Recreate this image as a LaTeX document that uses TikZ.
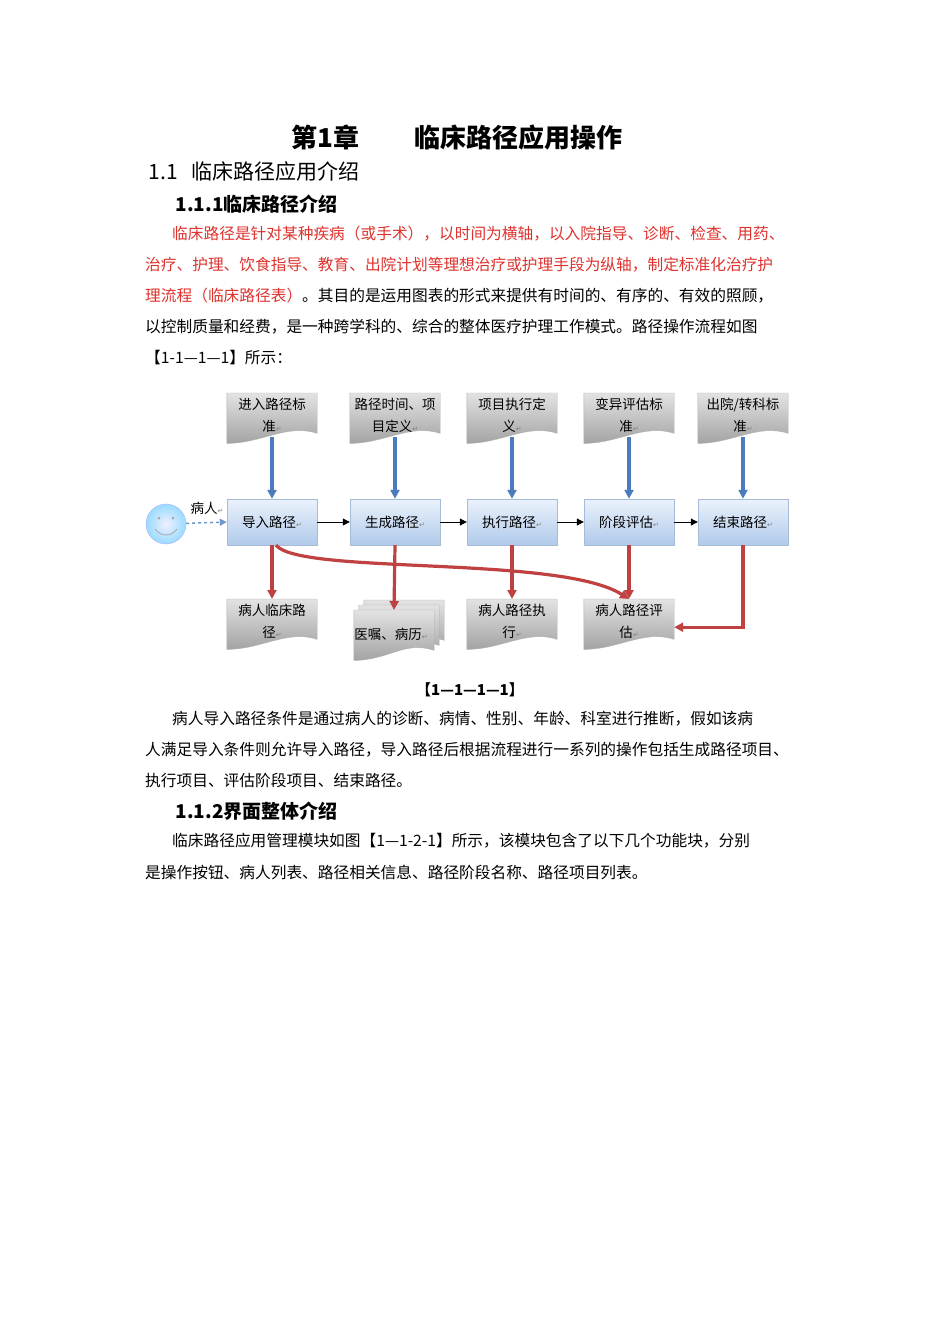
\documentclass[tikz,border=0pt]{standalone}
\usepackage{fontspec}
\setmainfont{Noto Sans CJK SC}
\newfontfamily\djv{DejaVu Sans}
\usetikzlibrary{calc,arrows.meta}
\definecolor{redtxt}{RGB}{222,50,45}
\definecolor{bluearr}{RGB}{75,125,190}
\definecolor{redarr}{RGB}{192,65,65}
\definecolor{boxtop}{RGB}{235,242,252}
\definecolor{boxbot}{RGB}{176,202,234}
\newcommand{\retm}{{\djv\color{gray}\fontsize{7}{7}\selectfont ↵}}
\begin{document}
\begin{tikzpicture}[x=1pt,y=-1pt,
  body/.style={anchor=west,inner sep=0pt,font=\fontsize{15.7}{15.7}\selectfont},
  docbox/.style={minimum width=90pt,minimum height=44pt,inner sep=1pt,align=center,text width=88pt,font=\fontsize{13.5}{22}\selectfont,anchor=north},
  procbox/.style={minimum width=90pt,minimum height=46pt,inner sep=1pt,top color=boxtop,bottom color=boxbot,draw=boxbot!80!gray,font=\fontsize{13.5}{15}\selectfont},
  docfill/.style={top color=gray!22,bottom color=gray!72,draw=gray!60,line width=0.4pt},
  barr/.style={-{Triangle[length=9pt,width=9pt]},bluearr,line width=3.2pt},
  rarr/.style={-{Triangle[length=9pt,width=9pt]},redarr,line width=3.2pt},
  karr/.style={-{Triangle[length=7pt,width=7pt]},black,line width=1pt}]
\useasboundingbox (0,0) rectangle (950,1344);
\newcommand{\docshape}[1]{\shade[docfill] (#1.north west) -- (#1.north east) -- ($(#1.south east)+(0,-4)$) .. controls +(-30,-10) and +(35,0) .. ($(#1.south west)+(0,6)$) -- cycle;}
% headings
\node[font=\fontsize{26}{26}\selectfont\bfseries] (title) at (457,138) {第1章\hspace{55pt}临床路径应用操作};
\node[anchor=west,font=\fontsize{21}{21}\selectfont] (h1) at (145,172) {1.1\hspace{14pt}临床路径应用介绍};
\node[anchor=west,font=\fontsize{19}{19}\selectfont\bfseries] (h2) at (172,204) {1.1.1临床路径介绍};
\node[body,text=redtxt] (l1) at (172,234) {临床路径是针对某种疾病（或手术），以时间为横轴，以入院指导、诊断、检查、用药、};
\node[body,text=redtxt] (l2) at (145,265) {治疗、护理、饮食指导、教育、出院计划等理想治疗或护理手段为纵轴，制定标准化治疗护};
\node[body] (l3) at (145,296) {\textcolor{redtxt}{理流程（临床路径表）}。其目的是运用图表的形式来提供有时间的、有序的、有效的照顾，};
\node[body] (l4) at (145,327) {以控制质量和经费，是一种跨学科的、综合的整体医疗护理工作模式。路径操作流程如图};
\node[body] (l5) at (145,358) {【1-1—1—1】所示：};
% top documents
\foreach \n/\x/\t in {t1/272/{进入路径标\\准\retm}, t2/395/{路径时间、项\\目定义\retm}, t3/512/{项目执行定\\义\retm}, t4/629/{变异评估标\\准\retm}, t5/743/{出院/转科标\\准\retm}}{
  \node[docbox] (\n) at (\x,393) {};
  \docshape{\n}
  \node[docbox] at (\x,393) {\t};
}
% process boxes
\foreach \n/\x/\t in {p1/272/导入路径, p2/395/生成路径, p3/512/执行路径, p4/629/阶段评估, p5/743/结束路径}{
  \node[procbox] (\n) at (\x,522) {\raisebox{-6pt}{\t\retm}};
}
% bottom documents
\node[docbox] (b1) at (272,599) {}; \docshape{b1}
\node[docbox] at (272,599) {病人临床路\\径\retm};
\node[docbox,minimum width=80pt,text width=78pt] (b2c) at (404,600) {}; \docshape{b2c}
\node[docbox,minimum width=80pt,text width=78pt] (b2b) at (399,605) {}; \docshape{b2b}
\node[docbox,minimum width=80pt,text width=78pt] (b2) at (394,610) {}; \docshape{b2}
\node[docbox,minimum width=80pt,text width=78pt] at (391,612) {医嘱、病历\retm};
\node[docbox] (b3) at (512,599) {}; \docshape{b3}
\node[docbox] at (512,599) {病人路径执\\行\retm};
\node[docbox] (b4) at (629,599) {}; \docshape{b4}
\node[docbox] at (629,599) {病人路径评\\估\retm};
% smiley
\shade[inner color=blue!6,outer color=blue!35!cyan!40,draw=blue!30] (166,524) circle (20);
\node[circle,minimum size=40pt,inner sep=0pt] (face) at (166,524) {};
\fill[gray!70] (159,518) circle (1.5) (173,518) circle (1.5);
\draw[gray!70,line width=0.8pt] (155,529) .. controls (161,537) and (171,537) .. (177,529);
\draw[-{Triangle[length=7pt,width=7pt]},bluearr!80,dashed,line width=1.5pt] (face) -- (p1.west);
\node[font=\fontsize{13.5}{13.5}\selectfont] (pat) at (207,508) {病人\retm};
% arrows
\foreach \i in {1,...,5}{ \draw[barr] (t\i.south) -- (p\i.north); }
\draw[karr] (p1) -- (p2); \draw[karr] (p2) -- (p3); \draw[karr] (p3) -- (p4); \draw[karr] (p4) -- (p5);
\draw[rarr] (p1.south) -- (b1.north);
\draw[rarr] (p2.south) -- (b2.north);
\draw[rarr] (p3.south) -- (b3.north);
\draw[rarr] (p4.south) -- (b4.north);
\draw[rarr] ($(p1.south)+(4,0)$) .. controls (300,575) and (560,555) .. (b4.north);
\draw[rarr] (p5.south) |- ($(b4.east)+(0,6)$);
% caption and text
\node[font=\fontsize{15}{15}\selectfont\bfseries] (cap) at (470,690) {【1—1—1—1】};
\node[body] (m1) at (172,719) {病人导入路径条件是通过病人的诊断、病情、性别、年龄、科室进行推断，假如该病};
\node[body] (m2) at (145,750) {人满足导入条件则允许导入路径，导入路径后根据流程进行一系列的操作包括生成路径项目、};
\node[body] (m3) at (145,781) {执行项目、评估阶段项目、结束路径。};
\node[anchor=west,font=\fontsize{19}{19}\selectfont\bfseries] (h3) at (172,811) {1.1.2界面整体介绍};
\node[body] (m4) at (172,841) {临床路径应用管理模块如图【1—1-2-1】所示，该模块包含了以下几个功能块，分别};
\node[body] (m5) at (145,872) {是操作按钮、病人列表、路径相关信息、路径阶段名称、路径项目列表。};
\end{tikzpicture}
\end{document}
